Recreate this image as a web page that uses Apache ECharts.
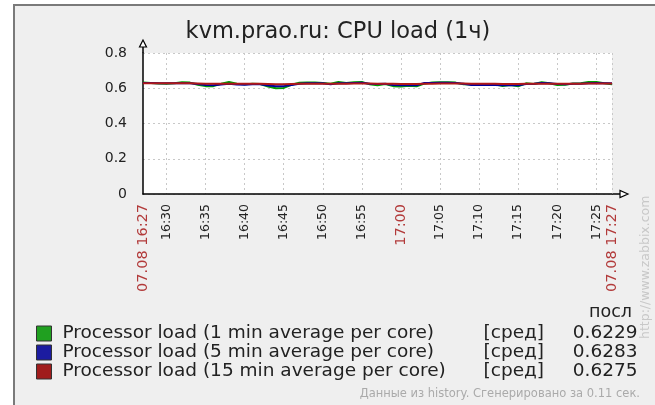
<!DOCTYPE html>
<html>
<head>
<meta charset="utf-8">
<script src="https://cdn.jsdelivr.net/npm/echarts@6/dist/echarts.min.js"></script>
<style>
  html, body { margin: 0; padding: 0; background: #fff; }
  #frame { position: absolute; left: 13px; top: 4px; width: 660px; height: 420px;
           background: #efefef; border-left: 2px solid #7a7a7a; border-top: 2px solid #7a7a7a; }
  #chart { position: absolute; left: 0; top: 0; width: 655px; height: 405px; }
</style>
</head>
<body>
<div id="frame"></div>
<div id="chart"></div>
<script>
// minutes 16:27 .. 17:27
const minutes = [];
for (let h = 16, m = 27; h < 17 || m <= 27; ) {
  minutes.push(h + ':' + String(m).padStart(2, '0'));
  m++; if (m === 60) { m = 0; h++; }
}
const load1 = [0.633,0.630,0.627,0.626,0.628,0.634,0.632,0.620,0.612,0.612,
  0.625,0.635,0.626,0.622,0.626,0.624,0.610,0.600,0.602,0.620,
  0.631,0.632,0.632,0.630,0.626,0.636,0.630,0.634,0.636,0.622,
  0.617,0.624,0.612,0.610,0.614,0.611,0.626,0.633,0.634,0.634,
  0.632,0.622,0.621,0.622,0.624,0.622,0.613,0.618,0.611,0.628,
  0.624,0.634,0.628,0.619,0.620,0.627,0.628,0.635,0.636,0.629,0.6229];
const load5 = [0.630,0.630,0.629,0.628,0.628,0.629,0.628,0.624,0.618,0.617,
  0.621,0.626,0.621,0.620,0.623,0.622,0.615,0.611,0.612,0.619,
  0.626,0.628,0.629,0.628,0.622,0.628,0.628,0.630,0.631,0.626,
  0.624,0.625,0.618,0.617,0.618,0.617,0.630,0.630,0.631,0.631,
  0.630,0.626,0.619,0.618,0.619,0.619,0.617,0.618,0.617,0.624,
  0.625,0.630,0.628,0.624,0.623,0.625,0.626,0.629,0.630,0.629,0.6283];
const load15 = [0.628,0.628,0.628,0.628,0.628,0.628,0.628,0.627,0.626,0.625,
  0.625,0.626,0.626,0.625,0.625,0.625,0.624,0.623,0.623,0.624,
  0.625,0.626,0.626,0.626,0.625,0.626,0.626,0.627,0.627,0.627,
  0.626,0.626,0.625,0.624,0.624,0.624,0.625,0.626,0.627,0.627,
  0.627,0.627,0.626,0.625,0.625,0.625,0.624,0.624,0.624,0.625,
  0.625,0.626,0.626,0.626,0.626,0.626,0.626,0.627,0.627,0.6275,0.6275];
const names = ['Processor load (1 min average per core)',
  'Processor load (5 min average per core)',
  'Processor load (15 min average per core)'];
const lastValues = ['0.6229', '0.6283', '0.6275'];
const colors = ['#009e00', '#00009e', '#b01818'];
const boxColors = ['#20a020', '#1c1ca0', '#a01c1c'];
const dateLabel = '07.08';

const font = 'DejaVu Sans';
const G = { left: 143, top: 53, width: 469, height: 141 };
const chart = echarts.init(document.getElementById('chart'));

const isMark = (i) => {
  const mm = +minutes[i].split(':')[1];
  return mm % 5 === 0;
};

const legendFont = { fontSize: 18.5, fontFamily: font, color: '#222', lineHeight: 18.5 };

const option = {
  animation: false,
  backgroundColor: 'transparent',
  textStyle: { fontFamily: font },
  title: {
    text: 'kvm.prao.ru: CPU load (1ч)',
    left: 333, textAlign: 'center', top: 16,
    textStyle: { fontFamily: font, fontSize: 22.5, fontWeight: 'normal', color: '#222' }
  },
  grid: Object.assign({ show: true, backgroundColor: '#fff', borderWidth: 0 }, G),
  xAxis: {
    type: 'category', data: minutes, boundaryGap: false,
    axisLine: { lineStyle: { color: '#000', width: 1.5 } },
    axisTick: { show: false },
    splitLine: {
      show: true,
      interval: (i) => isMark(i) || i === minutes.length - 1,
      lineStyle: { color: '#c8c8c8', type: [2, 3], width: 1 }
    },
    axisLabel: {
      rotate: 90, margin: 10, color: '#222', fontSize: 12.5, fontFamily: font,
      interval: (i) => isMark(i) || i === 0 || i === minutes.length - 1,
      formatter: (v, i) => {
        if (i === 0 || i === minutes.length - 1) return '{r|' + dateLabel + ' ' + v + '}';
        if (v.endsWith(':00')) return '{r|' + v + '}';
        return v;
      },
      rich: { r: { color: '#b23a3a', fontSize: 14.5, fontFamily: font } }
    }
  },
  yAxis: {
    type: 'value', min: 0, max: 0.8, interval: 0.2,
    axisLine: { show: true, lineStyle: { color: '#000', width: 1.5 } },
    axisTick: { show: false },
    splitLine: { lineStyle: { color: '#c8c8c8', type: [2, 3], width: 1 } },
    axisLabel: { color: '#222', fontSize: 14, margin: 16, fontFamily: font }
  },
  legend: {
    orient: 'vertical', left: 36, top: 324, padding: 0, itemGap: 0,
    itemWidth: 15, itemHeight: 15, icon: 'rect',
    selectedMode: false,
    data: names.map((n, i) => ({ name: n, itemStyle: { color: boxColors[i], borderColor: '#333', borderWidth: 1 } })),
    formatter: (name) => '{n|' + name + '}{a|[сред]}{v|' + lastValues[names.indexOf(name)] + '}',
    textStyle: Object.assign({
      rich: {
        n: Object.assign({ width: 421, padding: [0, 0, 0, 6] }, legendFont),
        a: Object.assign({ width: 52 }, legendFont),
        v: Object.assign({ width: 102, align: 'right' }, legendFont)
      }
    }, legendFont)
  },
  series: [load1, load5, load15].map((d, i) => ({
    name: names[i], type: 'line', data: d, showSymbol: false,
    lineStyle: { color: colors[i], width: 2 }, itemStyle: { color: boxColors[i] }
  })),
  graphic: []
};
chart.setOption(option);

// axis arrows and page texts
const x0 = G.left, x1 = G.left + G.width, y0 = G.top + G.height, y1 = G.top;
chart.setOption({
  graphic: [
    { type: 'line', shape: { x1: x0, y1: y1, x2: x0, y2: y1 - 6 }, style: { stroke: '#000', lineWidth: 1.5 } },
    { type: 'polygon', shape: { points: [[x0, y1 - 13], [x0 - 3.5, y1 - 6], [x0 + 3.5, y1 - 6]] },
      style: { fill: '#fff', stroke: '#000', lineWidth: 1.2 } },
    { type: 'line', shape: { x1: x1, y1: y0, x2: x1 + 8, y2: y0 }, style: { stroke: '#000', lineWidth: 1.5 } },
    { type: 'polygon', shape: { points: [[x1 + 16, y0], [x1 + 8, y0 - 3.5], [x1 + 8, y0 + 3.5]] },
      style: { fill: '#fff', stroke: '#000', lineWidth: 1.2 } },
    { type: 'text', left: 589, top: 303,
      style: { text: 'посл', font: '17.5px "' + font + '"', fill: '#222' } },
    { type: 'text', right: 15, top: 388,
      style: { text: 'Данные из history. Сгенерировано за 0.11 сек.', font: '11.5px "' + font + '"', fill: '#aaa' } },
    { type: 'text', x: 639, y: 339, rotation: Math.PI / 2,
      style: { text: 'http://www.zabbix.com', font: '12.5px "' + font + '"', fill: '#c8c8c8' } }
  ]
});
</script>
</body>
</html>
